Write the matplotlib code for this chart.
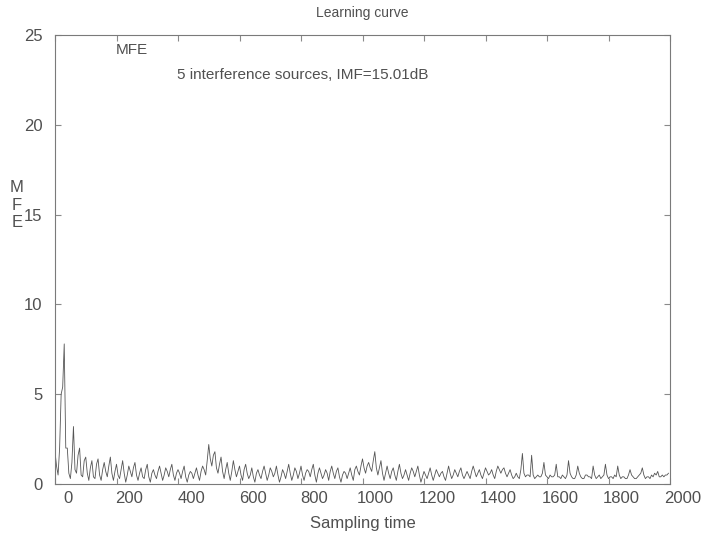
import numpy as np
import matplotlib.pyplot as plt
import matplotlib.transforms as mtransforms

# ---------------------------------------------------------------------------
# Data (MFE, one value every 5 samples)
# ---------------------------------------------------------------------------

SAMPLE_STEP = 5

mfe = [
    1.8, 1.0, 0.5, 2.0, 5.0, 5.4, 7.8, 2.0, 2.0, 0.6, 0.3, 1.2, 3.2, 0.8, 0.6, 1.6, 2.0, 0.5, 0.4, 1.3,
    1.5, 0.6, 0.2, 0.9, 1.3, 0.4, 0.3, 1.1, 1.4, 0.5, 0.2, 0.8, 1.2, 0.7, 0.4, 1.0, 1.5, 0.6, 0.2, 0.7,
    1.1, 0.5, 0.3, 0.8, 1.3, 0.6, 0.1, 0.5, 1.0, 0.7, 0.4, 0.9, 1.2, 0.5, 0.2, 0.6, 0.9, 0.4, 0.3, 0.8,
    1.1, 0.4, 0.1, 0.6, 0.8, 0.5, 0.3, 0.7, 1.0, 0.6, 0.2, 0.5, 0.9, 0.7, 0.4, 0.8, 1.1, 0.5, 0.2, 0.6,
    0.8, 0.6, 0.3, 0.7, 1.0, 0.4, 0.1, 0.5, 0.7, 0.6, 0.3, 0.6, 0.9, 0.5, 0.2, 0.7, 1.0, 0.8, 0.5, 1.3,
    2.2, 1.4, 1.0, 1.6, 1.8, 0.9, 0.6, 1.1, 1.5, 0.7, 0.3, 0.8, 1.2, 0.6, 0.2, 0.7, 1.3, 0.8, 0.4, 0.7,
    1.0, 0.5, 0.2, 0.8, 1.1, 0.6, 0.3, 0.5, 0.9, 0.4, 0.1, 0.6, 0.8, 0.5, 0.3, 0.7, 1.0, 0.6, 0.2, 0.5,
    0.9, 0.7, 0.4, 0.6, 1.0, 0.5, 0.1, 0.4, 0.8, 0.6, 0.3, 0.7, 1.1, 0.6, 0.2, 0.5, 0.9, 0.7, 0.3, 0.6,
    1.0, 0.5, 0.2, 0.6, 0.8, 0.7, 0.4, 0.8, 1.1, 0.5, 0.1, 0.6, 0.9, 0.6, 0.3, 0.5, 0.8, 0.6, 0.2, 0.7,
    1.0, 0.6, 0.3, 0.7, 0.9, 0.4, 0.1, 0.5, 0.7, 0.6, 0.3, 0.6, 0.9, 0.5, 0.2, 0.8, 1.0, 0.7, 0.5, 1.0,
    1.4, 0.9, 0.6, 1.0, 1.2, 0.9, 0.7, 1.3, 1.8, 0.9, 0.5, 0.9, 1.3, 0.6, 0.2, 0.6, 1.0, 0.6, 0.3, 0.7,
    0.9, 0.5, 0.2, 0.7, 1.1, 0.6, 0.3, 0.5, 0.8, 0.5, 0.2, 0.6, 0.9, 0.7, 0.4, 0.7, 1.0, 0.5, 0.1, 0.4,
    0.7, 0.5, 0.3, 0.6, 0.9, 0.5, 0.2, 0.5, 0.8, 0.6, 0.4, 0.6, 0.7, 0.4, 0.2, 0.6, 1.0, 0.6, 0.3, 0.5,
    0.8, 0.6, 0.4, 0.7, 0.9, 0.5, 0.3, 0.5, 0.7, 0.5, 0.3, 0.7, 1.0, 0.7, 0.4, 0.6, 0.8, 0.5, 0.3, 0.6,
    0.9, 0.7, 0.5, 0.6, 0.8, 0.5, 0.3, 0.7, 1.0, 0.8, 0.6, 0.8, 0.9, 0.6, 0.4, 0.6, 0.8, 0.5, 0.3, 0.4,
    0.6, 0.4, 0.3, 0.8, 1.7, 0.6, 0.4, 0.5, 0.5, 0.4, 1.6, 0.5, 0.3, 0.4, 0.5, 0.4, 0.4, 0.6, 1.2, 0.5,
    0.4, 0.3, 0.5, 0.4, 0.4, 0.5, 1.1, 0.4, 0.4, 0.3, 0.5, 0.4, 0.3, 0.5, 1.3, 0.6, 0.4, 0.3, 0.3, 0.5,
    1.0, 0.6, 0.4, 0.3, 0.3, 0.5, 0.5, 0.4, 0.4, 0.3, 1.0, 0.5, 0.3, 0.4, 0.5, 0.3, 0.4, 0.5, 1.1, 0.5,
    0.3, 0.4, 0.4, 0.3, 0.5, 0.4, 1.0, 0.5, 0.3, 0.4, 0.4, 0.3, 0.3, 0.5, 0.8, 0.5, 0.4, 0.3, 0.3, 0.4,
    0.5, 0.6, 0.9, 0.5, 0.3, 0.4, 0.4, 0.3, 0.5, 0.4, 0.6, 0.5, 0.7, 0.4, 0.4, 0.5, 0.4, 0.5, 0.5, 0.6,
]

x_ticks = [0, 200, 400, 600, 800, 1000, 1200, 1400, 1600, 1800, 2000]
y_ticks = [0, 5, 10, 15, 20, 25]

title     = "Learning curve"
x_label   = "Sampling time"
y_label   = "M\nF\nE"
note_name = "MFE"
note_cond = "5 interference sources, IMF=15.01dB"

# ---------------------------------------------------------------------------
# Plot
# ---------------------------------------------------------------------------

plt.rcParams["font.family"] = ["Liberation Sans", "DejaVu Sans"]
INK = "#505050"

samples = np.arange(len(mfe)) * SAMPLE_STEP

fig = plt.figure(figsize=(7.06, 5.38), dpi=100)
ax = fig.add_axes([55 / 706, 1 - 484 / 538, 615 / 706, 449 / 538])

ax.plot(samples, mfe, color="#555555", linewidth=0.6)

ax.set_xlim(0, 2000)
ax.set_ylim(0, 25)
ax.set_xticks(x_ticks)
ax.set_yticks(y_ticks)
ax.tick_params(direction="in", top=True, right=True, length=4,
               colors="#8a8a8a", labelcolor=INK, labelsize=12)
ax.tick_params(axis="y", pad=9)
ax.tick_params(axis="x", pad=5)
for spine in ax.spines.values():
    spine.set_color("#7a7a7a")
    spine.set_linewidth(0.8)

# the scanned tick labels sit a little right of their ticks
shift = mtransforms.ScaledTranslation(13 / 100, 0, fig.dpi_scale_trans)
for lbl in ax.get_xticklabels():
    lbl.set_transform(lbl.get_transform() + shift)

ax.set_title(title, fontsize=10, color=INK, pad=13)
ax.set_xlabel(x_label, fontsize=12, color=INK, labelpad=7)
fig.text(17 / 706, 1 - 205 / 538, y_label, fontsize=12, color=INK,
         ha="center", va="center", linespacing=1.2)

ax.text(0.099, 0.967, note_name, transform=ax.transAxes, fontsize=11,
        color=INK, ha="left", va="center")
ax.text(0.198, 0.911, note_cond, transform=ax.transAxes, fontsize=11,
        color=INK, ha="left", va="center")

plt.savefig("out.png", dpi=100)
